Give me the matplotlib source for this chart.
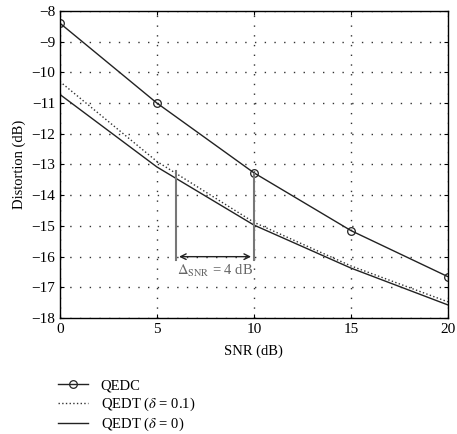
import matplotlib
matplotlib.use("Agg")
import matplotlib.pyplot as plt

snr = [0, 5, 10, 15, 20]
qedc = [-8.4, -11.0, -13.27, -15.15, -16.65]
qedt_01 = [-10.3, -12.9, -14.88, -16.3, -17.47]
qedt_0 = [-10.72, -13.08, -14.97, -16.37, -17.57]

xticks = [0, 5, 10, 15, 20]
yticks = [-8, -9, -10, -11, -12, -13, -14, -15, -16, -17, -18]

plt.rcParams['font.family'] = ['Liberation Serif', 'DejaVu Serif']
plt.rcParams['mathtext.fontset'] = 'stix'

fig = plt.figure(figsize=(4.57, 4.34), dpi=100)
ax = fig.add_axes([0.131, 0.267, 0.849, 0.708])

ax.plot(snr, qedc, '-', color='#222222', lw=1.0, marker='o', ms=5.5,
        mfc='none', mec='#222222', mew=0.9, label='QEDC')
ax.plot(snr, qedt_01, ':', color='#333333', lw=1.0, label=r'QEDT ($\delta$ = 0.1)')
ax.plot(snr, qedt_0, '-', color='#222222', lw=1.0, label=r'QEDT ($\delta$ = 0)')

# annotation
ax.plot([6, 6], [-13.2, -16.1], color='#777777', lw=1.5)
ax.plot([10, 10], [-13.3, -16.1], color='#777777', lw=1.5)
ax.annotate('', xy=(6, -16.0), xytext=(10, -16.0),
            arrowprops=dict(arrowstyle='<->', color='#222222', lw=1.0))
ax.text(8, -16.45, r'$\Delta_{\mathrm{SNR}}$ = 4 dB', color='#666666',
        ha='center', va='center', fontsize=10.5)

ax.set_xlim(0, 20)
ax.set_ylim(-18, -8)
ax.set_xticks(xticks)
ax.set_yticks(yticks)
ax.set_yticklabels(['\u2212%d' % abs(v) for v in yticks])
ax.tick_params(direction='in', top=True, right=True, labelsize=11, length=3)
ax.grid(True, linestyle=(0, (1, 6)), color='#333333', lw=1.0)
for s in ax.spines.values():
    s.set_linewidth(1.0)
ax.set_xlabel('SNR (dB)', fontsize=10.5, labelpad=6)
ax.set_ylabel('Distortion (dB)', fontsize=10.5, labelpad=4)

fig.legend(loc='upper left', bbox_to_anchor=(0.115, 0.14), frameon=False,
           fontsize=10.5, labelspacing=0.22, handlelength=2.0, handletextpad=0.9,
           borderaxespad=0)

fig.savefig('out.png', dpi=100)
